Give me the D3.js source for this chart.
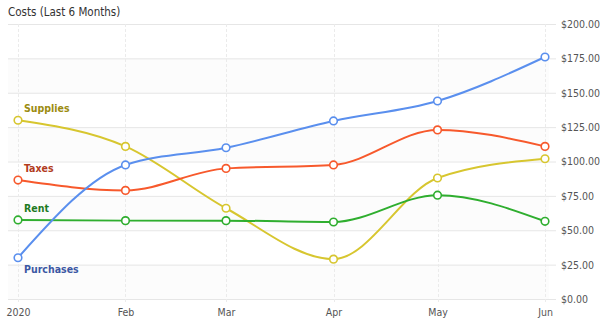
<!DOCTYPE html>
<html>
<head>
<meta charset="utf-8">
<script src="https://cdn.jsdelivr.net/npm/d3@7"></script>
<style>
  body { margin: 0; background: #fff; }
  svg { display: block; font-family: Tahoma, "DejaVu Sans Condensed", sans-serif; }
</style>
</head>
<body>
<div id="chart"></div>
<script>
"use strict";
const months = ["2020-01-01", "2020-02-01", "2020-03-01", "2020-04-01", "2020-05-01", "2020-06-01"];
const monthLabels = ["2020", "Feb", "Mar", "Apr", "May", "Jun"];
const purchases = [30, 97.5, 110, 129.5, 144, 176];
const taxes = [86.5, 79, 95, 97.5, 123, 111];
const supplies = [130, 111, 66, 29, 88, 102];
const rent = [57.5, 57, 57, 56, 75.5, 56.5];
const yTicks = [0, 25, 50, 75, 100, 125, 150, 175, 200];

const series = [
    { name: "Supplies", values: supplies, color: "#d7c62f", labelColor: "#9c8c10", labelDy: -8 },
    { name: "Taxes", values: taxes, color: "#f7592c", labelColor: "#b23c1e", labelDy: -8 },
    { name: "Rent", values: rent, color: "#2fae2f", labelColor: "#1f7a1f", labelDy: -8 },
    { name: "Purchases", values: purchases, color: "#5a8fee", labelColor: "#3b57a3", labelDy: 15 }
];

const width = 604, height = 323;
const margin = { top: 24, right: 59, bottom: 24, left: 18 };
const fontFamily = "Tahoma, 'DejaVu Sans Condensed', sans-serif";
const parse = d3.timeParse("%Y-%m-%d");
const dates = months.map(parse);

const svg = d3.select("#chart").append("svg")
    .attr("width", width)
    .attr("height", height);

const x = d3.scaleTime()
    .domain(d3.extent(dates))
    .range([margin.left, width - margin.right]);
const y = d3.scaleLinear()
    .domain([0, 200])
    .range([height - margin.bottom, margin.top]);

svg.append("text")
    .attr("x", 8).attr("y", 16)
    .attr("font-size", 11.5)
    .attr("fill", "#333")
    .text("Costs (Last 6 Months)");

// alternating bands
const bands = svg.append("g");
for (let i = 0; i < yTicks.length - 1; i += 2) {
    bands.append("rect")
        .attr("x", 8)
        .attr("width", width - margin.right - 8 + 4)
        .attr("y", y(yTicks[i + 1]))
        .attr("height", y(yTicks[i]) - y(yTicks[i + 1]))
        .attr("fill", "#fcfcfc");
}

// horizontal grid
svg.append("g").selectAll("line").data(yTicks).join("line")
    .attr("x1", 8).attr("x2", width - margin.right + 11)
    .attr("y1", d => y(d) + 0.5).attr("y2", d => y(d) + 0.5)
    .attr("stroke", "#e6e6e6");

// vertical grid
svg.append("g").selectAll("line").data(dates).join("line")
    .attr("x1", d => Math.round(x(d)) + 0.5).attr("x2", d => Math.round(x(d)) + 0.5)
    .attr("y1", margin.top).attr("y2", height - margin.bottom + 4)
    .attr("stroke", "#ebebeb")
    .attr("stroke-dasharray", "3,2");

// right axis
const yAxis = svg.append("g")
    .attr("transform", `translate(${width - margin.right + 16},0)`)
    .call(d3.axisRight(y).tickValues(yTicks).tickSize(0).tickPadding(0).tickFormat(d3.format("$,.2f")));
yAxis.select(".domain").remove();
yAxis.selectAll("text").attr("font-size", 10.5).attr("fill", "#555").attr("font-family", fontFamily);

// bottom axis
const xAxis = svg.append("g")
    .attr("transform", `translate(0,${height - margin.bottom})`)
    .call(d3.axisBottom(x).tickValues(dates).tickSize(0).tickPadding(10).tickFormat((d, i) => monthLabels[i]));
xAxis.select(".domain").remove();
xAxis.selectAll("text").attr("font-size", 10.5).attr("fill", "#555").attr("font-family", fontFamily);

const line = d3.line()
    .x((d, i) => x(dates[i]))
    .y(d => y(d))
    .curve(d3.curveMonotoneX);

const g = svg.append("g");
series.forEach(s => {
    g.append("path")
        .datum(s.values)
        .attr("fill", "none")
        .attr("stroke", s.color)
        .attr("stroke-width", 2)
        .attr("d", line);
});
series.forEach(s => {
    g.append("g").selectAll("circle").data(s.values).join("circle")
        .attr("cx", (d, i) => x(dates[i]))
        .attr("cy", d => y(d))
        .attr("r", 3.8)
        .attr("fill", "#fff")
        .attr("stroke", s.color)
        .attr("stroke-width", 1.6);
    g.append("text")
        .attr("x", x(dates[0]) + 6)
        .attr("y", y(s.values[0]) + s.labelDy)
        .attr("font-size", 10.5)
        .attr("font-weight", "bold")
        .attr("fill", s.labelColor)
        .text(s.name);
});
</script>
</body>
</html>
